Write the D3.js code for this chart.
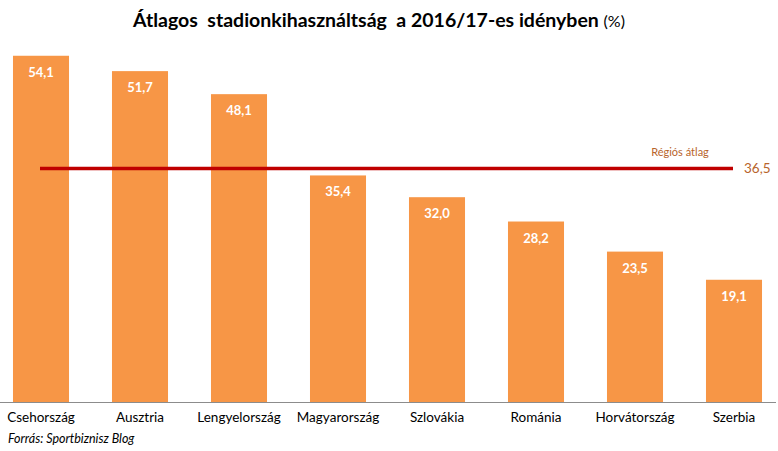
<!DOCTYPE html>
<html><head><meta charset="utf-8">
<script src="https://cdn.jsdelivr.net/npm/d3@7"></script>
<style>body{margin:0;background:#fff}svg{display:block}text{white-space:pre}</style>
</head><body>
<script>
const categories = ["Csehország","Ausztria","Lengyelország","Magyarország","Szlovákia","Románia","Horvátország","Szerbia"];
const values = [54.1,51.7,48.1,35.4,32.0,28.2,23.5,19.1];
const average = 36.5;
const titleMain = "Átlagos  stadionkihasználtság  a 2016/17-es idényben ";
const titleUnit = "(%)";
const avgLabel = "Régiós átlag";
const source = "Forrás: Sportbiznisz Blog";

const W = 778, H = 451;
const font = "Lato, 'Open Sans', sans-serif";
const svg = d3.select("body").append("svg").attr("width", W).attr("height", H);

const x = d3.scaleBand().domain(categories).range([-8.5, 783.5]).paddingInner(0.434).paddingOuter(0.217);
const y = d3.scaleLinear().domain([0, 60]).range([402, 18]);
const fmt = v => d3.format(".1f")(v).replace(".", ",");

svg.append("text").attr("x", 379).attr("y", 27).attr("text-anchor", "middle")
  .attr("font-family", font).attr("font-size", 19.5).attr("font-weight", "bold").attr("fill", "#000")
  .text(titleMain)
  .append("tspan").attr("font-weight", "normal").attr("font-size", 16).text(titleUnit);

svg.selectAll("rect.bar").data(values).join("rect").attr("class", "bar")
  .attr("x", (d, i) => x(categories[i])).attr("width", x.bandwidth())
  .attr("y", d => y(d)).attr("height", d => y(0) - y(d)).attr("fill", "#f79646");

svg.selectAll("text.val").data(values).join("text").attr("class", "val")
  .attr("x", (d, i) => x(categories[i]) + x.bandwidth() / 2).attr("y", d => y(d) + 21)
  .attr("text-anchor", "middle").attr("font-family", font).attr("font-size", 13)
  .attr("font-weight", "bold").attr("fill", "#fff").text(fmt);

svg.append("line").attr("x1", 0).attr("x2", 776).attr("y1", y(0) + 0.5).attr("y2", y(0) + 0.5)
  .attr("stroke", "#8c8c8c").attr("stroke-width", 1);

const xAxis = svg.append("g").attr("transform", `translate(0,${y(0)})`)
  .call(d3.axisBottom(x).tickSize(0).tickPadding(10));
xAxis.select(".domain").remove();
xAxis.selectAll("text").attr("font-family", font).attr("font-size", 13.5).attr("fill", "#000");

const first = categories[0], last = categories[categories.length - 1];
svg.append("line")
  .attr("x1", x(first) + x.bandwidth() / 2 - 1).attr("x2", x(last) + x.bandwidth() / 2 - 1)
  .attr("y1", y(average)).attr("y2", y(average))
  .attr("stroke", "#c00000").attr("stroke-width", 3.5);

svg.append("text").attr("x", 744).attr("y", y(average) + 5).attr("font-family", font)
  .attr("font-size", 13.5).attr("fill", "#b8642b").text(fmt(average));
svg.append("text").attr("x", 680).attr("y", y(average) - 12).attr("text-anchor", "middle")
  .attr("font-family", font).attr("font-size", 11).attr("fill", "#b8642b").text(avgLabel);

svg.append("text").attr("x", 8).attr("y", 443).attr("font-family", font).attr("font-size", 12.5)
  .attr("font-style", "italic").attr("fill", "#000").text(source);
</script>
</body></html>
